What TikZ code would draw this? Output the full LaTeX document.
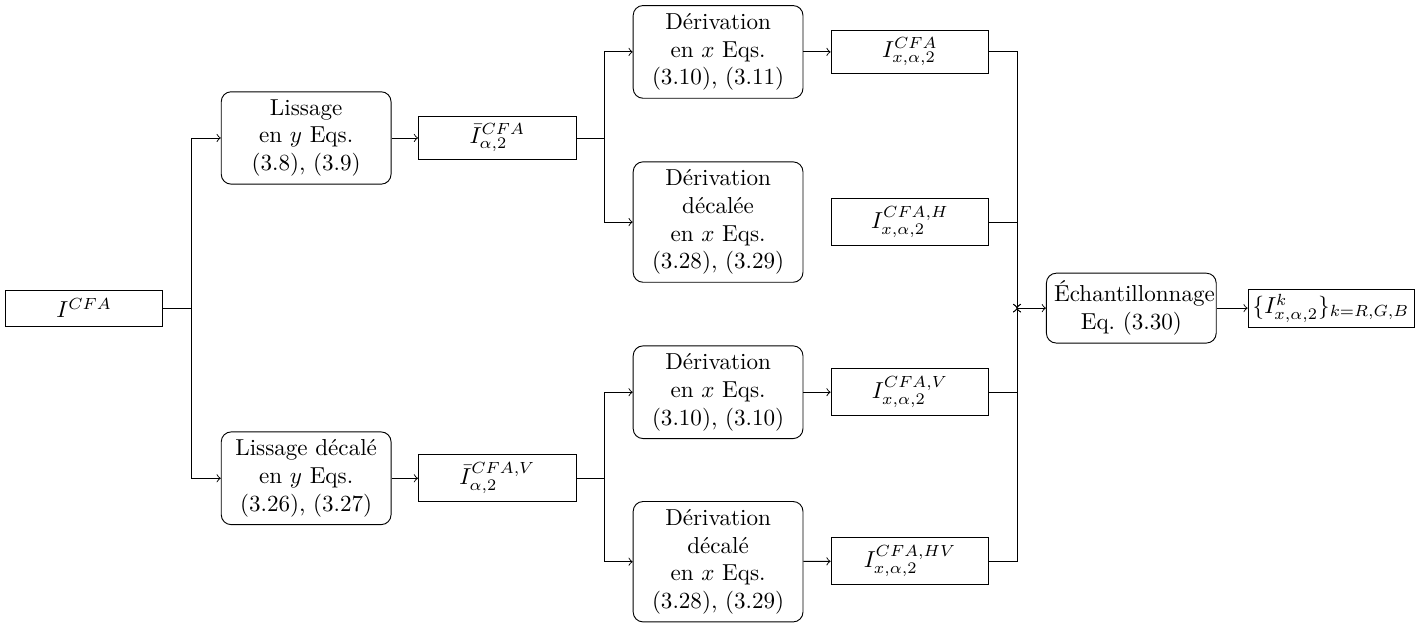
\documentclass[tikz,border=0pt]{standalone}
\usepackage{amsmath, amssymb}
\usepackage{tikz}

\begin{document}
\begin{tikzpicture}[
        proc/.style={rectangle, rounded corners=1.5mm, draw, text width=2.35cm, align=center},
        sig/.style={rectangle, draw, minimum width=2.4cm, minimum height=0.55cm}]
            \useasboundingbox (-1.28,-4.80) rectangle (20.38,4.69);

            % Nodes
            \node[sig] (cfa) at (0, 0) {$I^{CFA}$};
            \node[proc] (liss) at (3.38, 2.59) {Lissage\\ en $y$ Eqs.\\ (3.8), (3.9)};
            \node[proc] (lissdec) at (3.38, -2.59) {Lissage décalé\\ en $y$ Eqs.\\ (3.26), (3.27)};
            \node[sig] (ibar) at (6.29, 2.59) {$\bar{I}^{CFA}_{\alpha,2}$};
            \node[sig] (ibarv) at (6.29, -2.59) {$\bar{I}^{CFA,V}_{\alpha,2}$};
            \node[proc] (der) at (9.65, 3.90) {Dérivation\\ en $x$ Eqs.\\ (3.10), (3.11)};
            \node[proc] (derdec) at (9.65, 1.31) {Dérivation\\ décalée\\ en $x$ Eqs.\\ (3.28), (3.29)};
            \node[proc] (derv) at (9.65, -1.28) {Dérivation\\ en $x$ Eqs.\\ (3.10), (3.10)};
            \node[proc] (derhv) at (9.65, -3.86) {Dérivation\\ décalé\\ en $x$ Eqs.\\ (3.28), (3.29)};
            \node[sig] (ix) at (12.57, 3.90) {$I^{CFA}_{x,\alpha,2}$};
            \node[sig] (ixh) at (12.57, 1.31) {$I^{CFA,H}_{x,\alpha,2}$};
            \node[sig] (ixv) at (12.57, -1.28) {$I^{CFA,V}_{x,\alpha,2}$};
            \node[sig] (ixhv) at (12.57, -3.85) {$I^{CFA,HV}_{x,\alpha,2}$};
            \coordinate (jn) at (14.20, 0);
            \node[proc] (ech) at (15.94, 0) {Échantillonnage\\ Eq.\ (3.30)};
            \node[draw, rectangle, minimum height=0.55cm, inner sep=2pt] (out) at (18.98, 0) {$\{I^{k}_{x,\alpha,2}\}_{k=R,G,B}$};

            % Lines
            \draw[->] (cfa.east) -- ++(0.43,0) |- (liss.west);
            \draw[->] (cfa.east) -- ++(0.43,0) |- (lissdec.west);
            \draw[->] (liss) -- (ibar);
            \draw[->] (lissdec) -- (ibarv);
            \draw[->] (ibar.east) -- ++(0.42,0) |- (der.west);
            \draw[->] (ibar.east) -- ++(0.42,0) |- (derdec.west);
            \draw[->] (ibarv.east) -- ++(0.42,0) |- (derv.west);
            \draw[->] (ibarv.east) -- ++(0.42,0) |- (derhv.west);
            \draw[->] (der) -- (ix);
            \draw[->] (derv) -- (ixv);
            \draw[->] (derhv) -- (ixhv);
            \draw[->] (ix.east) -| (jn);
            \draw[->] (ixh.east) -| (jn);
            \draw[->] (ixv.east) -| (jn);
            \draw[->] (ixhv.east) -| (jn);
            \draw[->] (jn) -- (ech);
            \draw[->] (ech) -- (out);

        \end{tikzpicture}
\end{document}
